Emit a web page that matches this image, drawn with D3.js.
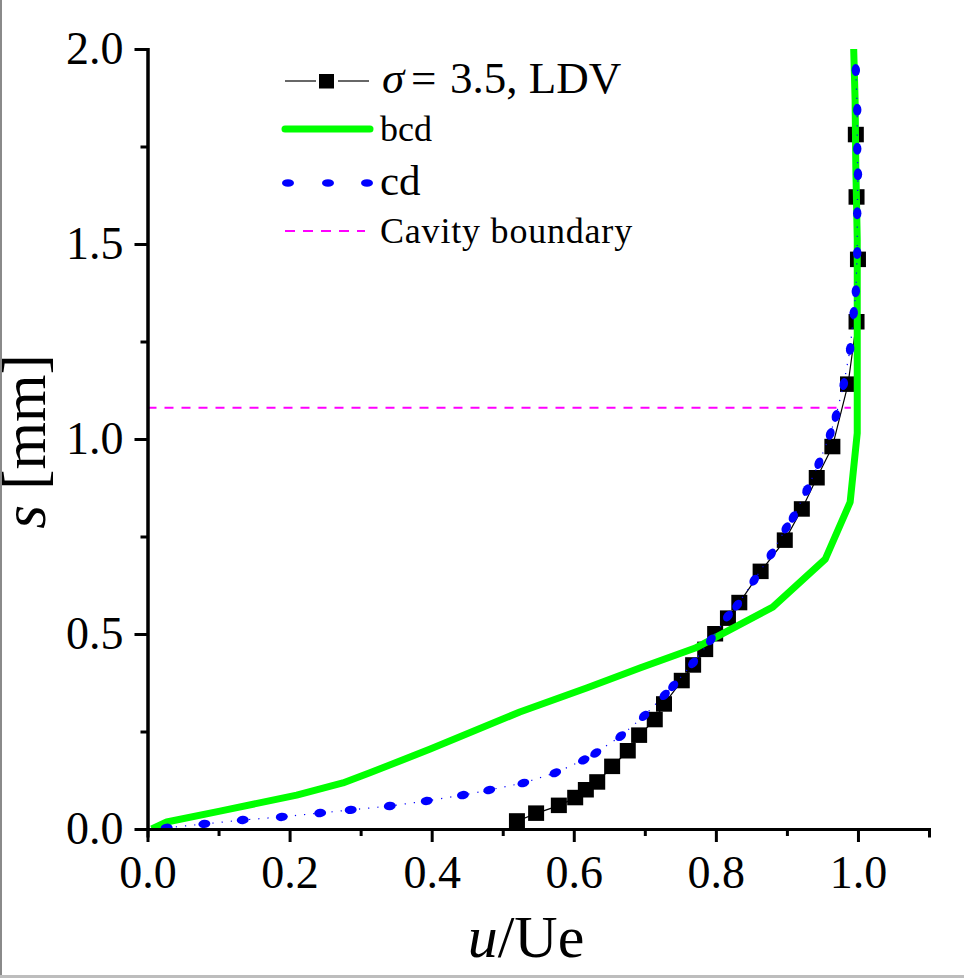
<!DOCTYPE html>
<html>
<head>
<meta charset="utf-8">
<script src="https://cdn.jsdelivr.net/npm/d3@7"></script>
<style>
  html, body { margin: 0; padding: 0; background: #fff; }
  svg { display: block; font-family: "Liberation Serif", serif; }
</style>
</head>
<body>
<svg id="drawing_region"></svg>
<script>
// LDV measurements
const ldvU = [0.520, 0.547, 0.579, 0.602, 0.617, 0.633, 0.654, 0.676, 0.692, 0.714, 0.727, 0.752, 0.768, 0.785, 0.799, 0.817, 0.833, 0.863, 0.897, 0.921, 0.942, 0.964, 0.986, 0.998, 1.000, 0.998, 0.997];
const ldvS = [0.02, 0.04, 0.06, 0.08, 0.10, 0.12, 0.16, 0.20, 0.24, 0.28, 0.32, 0.38, 0.42, 0.46, 0.50, 0.54, 0.58, 0.66, 0.74, 0.82, 0.90, 0.98, 1.14, 1.30, 1.46, 1.62, 1.78];

// bcd curve
const bcdU = [0.006, 0.027, 0.102, 0.210, 0.275, 0.313, 0.398, 0.524, 0.619, 0.693, 0.771, 0.880, 0.954, 0.989, 0.999, 0.999, 0.997, 0.996, 0.994];
const bcdS = [0.000, 0.018, 0.046, 0.087, 0.118, 0.144, 0.205, 0.300, 0.362, 0.413, 0.464, 0.569, 0.692, 0.838, 1.015, 1.510, 1.697, 1.869, 2.000];

// cd curve, one entry per visible dot
const cdU = [0.027, 0.080, 0.134, 0.189, 0.243, 0.286, 0.341, 0.393, 0.444, 0.481, 0.529, 0.574, 0.614, 0.631, 0.666, 0.699, 0.728, 0.740, 0.768, 0.793, 0.817, 0.830, 0.854, 0.878, 0.899, 0.909, 0.928, 0.945, 0.961, 0.969, 0.980, 0.989, 0.994, 0.997, 0.999, 0.999, 1.000, 0.999, 0.999, 0.997];
const cdS = [0.003, 0.013, 0.023, 0.031, 0.041, 0.049, 0.059, 0.072, 0.087, 0.100, 0.118, 0.144, 0.177, 0.195, 0.238, 0.290, 0.344, 0.367, 0.426, 0.485, 0.546, 0.574, 0.638, 0.705, 0.772, 0.800, 0.869, 0.938, 1.013, 1.059, 1.141, 1.231, 1.323, 1.379, 1.477, 1.579, 1.679, 1.744, 1.844, 1.946];

// cavity boundary
const cavityU = [0, 0.99];
const cavityS = [1.08, 1.08];

const xMajor = [0, 0.2, 0.4, 0.6, 0.8, 1.0];
const xMinor = [0.1, 0.3, 0.5, 0.7, 0.9, 1.1];
const yMajor = [0, 0.5, 1.0, 1.5, 2.0];
const yMinor = [0.25, 0.75, 1.25, 1.75];

const width = 964, height = 978;
const margin = { top: 49, right: 35, bottom: 149, left: 147.5 };

const svg = d3.select('#drawing_region')
    .attr('width', width)
    .attr('height', height);

// window edges of the screenshot
svg.append('rect').attr('width', 2).attr('height', height).attr('fill', '#8a8a8a');
svg.append('rect').attr('y', 975).attr('width', width).attr('height', 3).attr('fill', '#bdbdbd');

const xscale = d3.scaleLinear().domain([0, 1.1]).range([margin.left, width - margin.right]);
const yscale = d3.scaleLinear().domain([0, 2]).range([height - margin.bottom, margin.top]);

const zip = (a, b) => a.map((d, i) => [d, b[i]]);
const line = d3.line().x(d => xscale(d[0])).y(d => yscale(d[1]));

svg.append('clipPath').attr('id', 'plot')
    .append('rect')
    .attr('x', margin.left).attr('y', margin.top - 1)
    .attr('width', width - margin.left).attr('height', height - margin.top - margin.bottom + 1);

const chart = svg.append('g').attr('clip-path', 'url(#plot)');

chart.append('path')
    .attr('d', line(zip(cavityU, cavityS)))
    .attr('fill', 'none').attr('stroke', '#ff00ff')
    .attr('stroke-width', 2).attr('stroke-dasharray', '9 8');

chart.append('path')
    .attr('d', line(zip(ldvU, ldvS)))
    .attr('fill', 'none').attr('stroke', 'black').attr('stroke-width', 1.2);

chart.selectAll('.ldv').data(zip(ldvU, ldvS)).join('rect')
    .attr('class', 'ldv')
    .attr('x', d => xscale(d[0]) - 8).attr('y', d => yscale(d[1]) - 8)
    .attr('width', 16).attr('height', 15.5)
    .attr('fill', 'black');

chart.append('path')
    .attr('d', line(zip(bcdU, bcdS)))
    .attr('fill', 'none').attr('stroke', '#00ff00')
    .attr('stroke-width', 7).attr('stroke-linejoin', 'round');

const cdPoints = zip(cdU, cdS);
chart.append('path')
    .attr('d', line(cdPoints))
    .attr('fill', 'none').attr('stroke', '#0000ff')
    .attr('stroke-width', 1.2).attr('stroke-dasharray', '1.2 8');

// dots are stretched along the direction of the curve
chart.selectAll('.cd').data(cdPoints).join('ellipse')
    .attr('class', 'cd')
    .attr('rx', 6).attr('ry', 4.2)
    .attr('fill', '#0000ff')
    .attr('transform', (d, i) => {
        const p = cdPoints[Math.max(i - 1, 0)];
        const n = cdPoints[Math.min(i + 1, cdPoints.length - 1)];
        const angle = Math.atan2(yscale(n[1]) - yscale(p[1]), xscale(n[0]) - xscale(p[0])) * 180 / Math.PI;
        return `translate(${xscale(d[0])},${yscale(d[1])}) rotate(${angle})`;
    });

// axes
const xaxisMinor = d3.axisBottom(xscale).tickValues(xMinor).tickSize(7).tickFormat('');
const xaxisMajor = d3.axisBottom(xscale).tickValues(xMajor).tickSize(13).tickSizeOuter(0)
    .tickPadding(13).tickFormat(d3.format('.1f'));
const yaxisMinor = d3.axisLeft(yscale).tickValues(yMinor).tickSize(7).tickFormat('');
const yaxisMajor = d3.axisLeft(yscale).tickValues(yMajor).tickSize(13).tickSizeOuter(0)
    .tickPadding(11).tickFormat(d3.format('.1f'));

function drawAxis(axis, tx, ty) {
    const g = svg.append('g')
        .attr('transform', `translate(${tx},${ty})`)
        .call(axis);
    g.select('.domain').attr('stroke', 'black').attr('stroke-width', 3).attr('stroke-linecap', 'square');
    g.selectAll('.tick line').attr('stroke', 'black').attr('stroke-width', 3);
    g.selectAll('.tick text').attr('fill', 'black')
        .style('font-family', '"Liberation Serif", serif').style('font-size', '46px');
}
drawAxis(xaxisMinor, 0, yscale(0));
drawAxis(yaxisMinor, xscale(0), 0);
drawAxis(xaxisMajor, 0, yscale(0));
drawAxis(yaxisMajor, xscale(0), 0);

// axis titles
const xlabel = svg.append('text')
    .attr('x', 526).attr('y', 957)
    .attr('text-anchor', 'middle')
    .style('font-size', '60px');
xlabel.append('tspan').style('font-style', 'italic').text('u');
xlabel.append('tspan').text('/Ue');

const ylabel = svg.append('text')
    .attr('transform', 'translate(45,441.5) rotate(-90)')
    .attr('text-anchor', 'middle')
    .style('font-size', '61px');
ylabel.append('tspan').style('font-style', 'italic').text('s');
ylabel.append('tspan').text(' [mm]');

// legend
const legend = svg.append('g');

legend.append('line').attr('x1', 285).attr('x2', 316).attr('y1', 81).attr('y2', 81)
    .attr('stroke', 'black').attr('stroke-width', 1.2);
legend.append('line').attr('x1', 338).attr('x2', 369).attr('y1', 81).attr('y2', 81)
    .attr('stroke', 'black').attr('stroke-width', 1.2);
legend.append('rect').attr('x', 319).attr('y', 74).attr('width', 15).attr('height', 14.5).attr('fill', 'black');

legend.append('line').attr('x1', 285).attr('x2', 370).attr('y1', 129).attr('y2', 129)
    .attr('stroke', '#00ff00').attr('stroke-width', 7).attr('stroke-linecap', 'round');

[288, 328, 367].forEach(cx => {
    legend.append('ellipse').attr('cx', cx).attr('cy', 183).attr('rx', 6).attr('ry', 3.8).attr('fill', '#0000ff');
});

legend.append('line').attr('x1', 285).attr('x2', 365).attr('y1', 231).attr('y2', 231)
    .attr('stroke', '#ff00ff').attr('stroke-width', 2).attr('stroke-dasharray', '10 8');

const sigma = legend.append('text').attr('y', 93).style('font-size', '45px');
sigma.append('tspan').attr('x', 382).style('font-style', 'italic').text('σ');
sigma.append('tspan').attr('x', 411).text('=');
sigma.append('tspan').attr('x', 450).text('3.5, LDV');

legend.append('text').attr('x', 380).attr('y', 141).style('font-size', '36px').text('bcd');
legend.append('text').attr('x', 380).attr('y', 195).style('font-size', '43px').text('cd');
legend.append('text').attr('x', 380).attr('y', 243).style('font-size', '36px')
    .style('letter-spacing', '0.8px').text('Cavity boundary');
</script>
</body>
</html>
